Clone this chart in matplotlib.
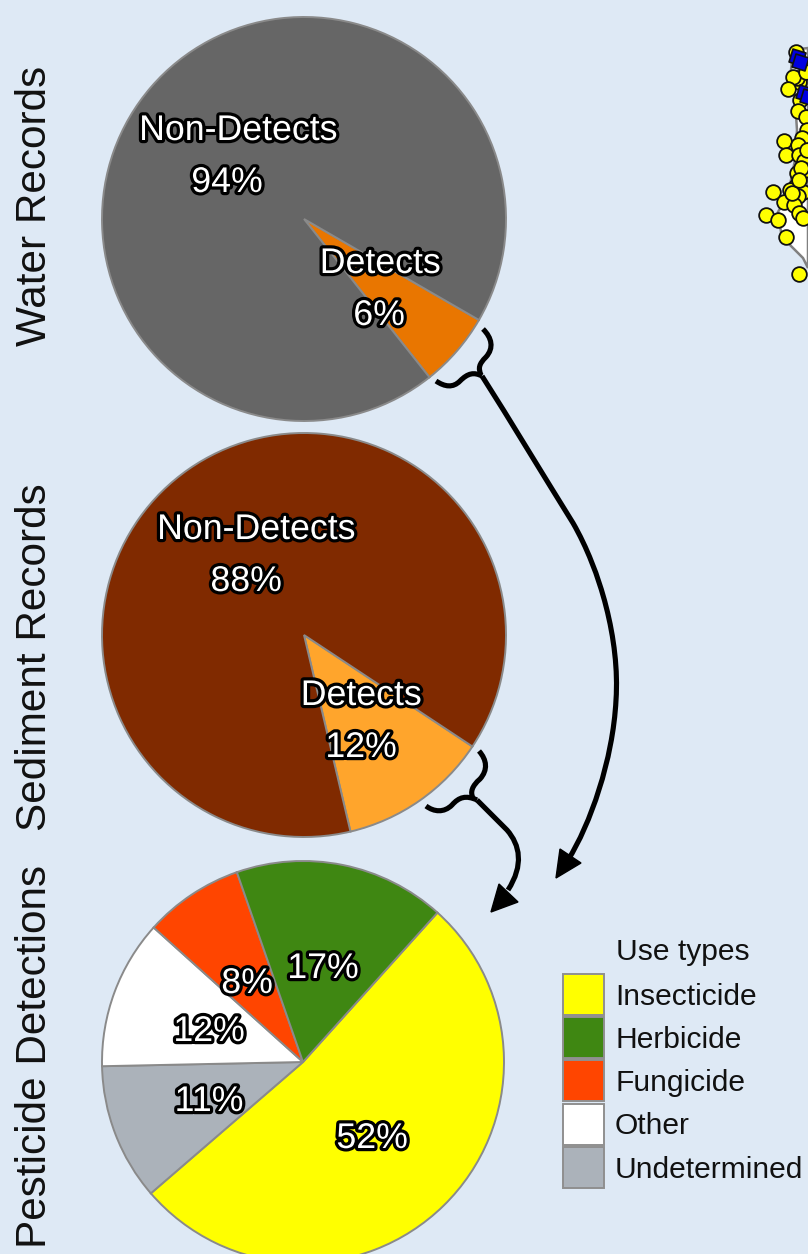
import matplotlib
matplotlib.use("Agg")
import matplotlib.pyplot as plt
import matplotlib.patheffects as pe
from matplotlib.path import Path
from matplotlib.patches import PathPatch, Polygon, Rectangle

plt.rcParams['font.family'] = ['Liberation Sans', 'DejaVu Sans']

# pie values, percent
water_vals = [6, 94]
sediment_vals = [12, 88]
use_vals = [52, 11, 12, 8, 17]

water_colors = ["#E97600", "#666666"]
sediment_colors = ["#FFA52C", "#802A00"]
use_colors = ["#FFFF00", "#ABB2BA", "#FFFFFF", "#FF4500", "#3F8712"]

row_names = ["Water Records", "Sediment Records", "Pesticide Detections"]

# legend, in drawing order
legend_names = ["Insecticide", "Herbicide", "Fungicide", "Other", "Undetermined"]
legend_colors = ["#FFFF00", "#3F8712", "#FF4500", "#FFFFFF", "#ABB2BA"]

# sampling sites on the cropped map, picture pixels
sites_x = [796, 795, 799, 797, 793, 788, 806, 800, 798, 806, 807, 802, 784, 786, 798, 799,
           804, 805, 797, 801, 807, 796, 803, 773, 790, 794, 798, 784, 794, 766, 778, 799,
           803, 786, 799, 792, 799]
sites_y = [52, 80, 82, 78, 77, 89, 72, 100, 111, 117, 130, 138, 141, 155, 145, 155,
           161, 170, 173, 168, 150, 186, 192, 192, 190, 198, 196, 202, 205, 215, 220, 213,
           218, 237, 274, 193, 180]
detect_x = [797, 800, 804, 808]
detect_y = [57, 62, 93, 97]
coast_x = [808, 793, 791, 795, 797, 795, 790, 782, 778, 781, 790, 803, 808]
coast_y = [48, 50, 70, 100, 130, 160, 185, 205, 212, 232, 245, 258, 268]

W, H = 808, 1254
BG = "#DEE9F5"
fig = plt.figure(figsize=(W / 100, H / 100), dpi=100, facecolor=BG)


def pie_at(cx, cy, r, vals, colors, start):
    ax = fig.add_axes([(cx - r) / W, 1 - (cy + r) / H, 2 * r / W, 2 * r / H])
    ax.pie(vals, colors=colors, startangle=start, counterclock=False, radius=1,
           wedgeprops={"edgecolor": "#8A8A8A", "linewidth": 1.4})
    ax.set_xlim(-1.005, 1.005)
    ax.set_ylim(-1.005, 1.005)
    ax.axis("off")


pie_at(304, 219, 203, water_vals, water_colors, -30)
pie_at(304, 635, 203, sediment_vals, sediment_colors, -33.5)
pie_at(303, 1062, 202, use_vals, use_colors, 48)

# overlay in pixel coords for text, map and arrows
ov = fig.add_axes([0, 0, 1, 1], facecolor="none")
ov.set_xlim(0, W)
ov.set_ylim(H, 0)
ov.axis("off")

ov.fill(coast_x, coast_y, facecolor="white", edgecolor="#808080", linewidth=1.8, zorder=1)
ov.scatter(sites_x, sites_y, s=112, c="#FFFF00", edgecolors="#111111", linewidths=1.3, zorder=2)
ov.scatter(detect_x, detect_y, s=190, c="#0000E0", marker=(4, 0, 28), edgecolors="#111111", linewidths=1.2, zorder=3)

stroke = [pe.withStroke(linewidth=4.6, foreground="black")]


def pie_label(x, y, s):
    ov.text(x, y, s, color="white", fontsize=25.7, ha="center", va="baseline",
            path_effects=stroke, zorder=5)


pie_label(238, 140, "Non-Detects")
pie_label(227, 192, f"{water_vals[1]}%")
pie_label(380, 273, "Detects")
pie_label(379, 325, f"{water_vals[0]}%")
pie_label(256, 539, "Non-Detects")
pie_label(246, 591, f"{sediment_vals[1]}%")
pie_label(361, 705, "Detects")
pie_label(361, 757, f"{sediment_vals[0]}%")
pie_label(372, 1148, f"{use_vals[0]}%")
pie_label(209, 1111, f"{use_vals[1]}%")
pie_label(209, 1041, f"{use_vals[2]}%")
pie_label(247, 993, f"{use_vals[3]}%")
pie_label(323, 978, f"{use_vals[4]}%")

for name, yc in zip(row_names, [206, 657, 1057]):
    ov.text(46, yc, name, rotation=90, fontsize=30.4, color="#111111", ha="center", va="baseline",
            rotation_mode="anchor")

# legend
ov.text(683, 960, "Use types", fontsize=21.6, color="#111111", ha="center", va="baseline")
for name, col, top, base in zip(legend_names, legend_colors, [974, 1017, 1060, 1104, 1147],
                                [1005, 1048, 1091, 1134, 1178]):
    ov.add_patch(Rectangle((563, top), 41, 41, facecolor=col, edgecolor="#8F8F8F", linewidth=1.4))
    ov.text(615, base, name, fontsize=21.6, color="#111111", ha="left", va="baseline")


def curve(verts):
    codes = [Path.MOVETO] + [Path.CURVE4] * (len(verts) - 1)
    ov.add_patch(PathPatch(Path(verts, codes), facecolor="none", edgecolor="black",
                           linewidth=3.7, capstyle="butt", zorder=4))


# water brace and long arrow
curve([(483, 329), (492, 338), (494, 348), (486, 357), (479, 364), (478, 368), (481, 375)])
curve([(436, 381), (445, 387), (453, 388), (460, 381), (468, 373), (474, 372), (482, 376)])
curve([(482, 376), (510, 420), (545, 478), (573, 523), (600, 570), (620, 640), (616, 700),
       (613, 760), (590, 825), (568, 860)])
ov.add_patch(Polygon([(556, 878), (560, 849), (581, 863)], color="black", zorder=4))

# sediment brace and short arrow
curve([(479, 751), (487, 760), (488, 770), (480, 779), (472, 786), (470, 792), (473, 798)])
curve([(426, 806), (434, 812), (444, 813), (452, 805), (459, 797), (466, 795), (477, 800)])
curve([(477, 800), (487, 810), (497, 820), (507, 830), (520, 845), (524, 865), (508, 890)])
ov.add_patch(Polygon([(491, 912), (499, 884), (518, 902)], color="black", zorder=4))

fig.savefig("out.png", dpi=100, facecolor=BG)
